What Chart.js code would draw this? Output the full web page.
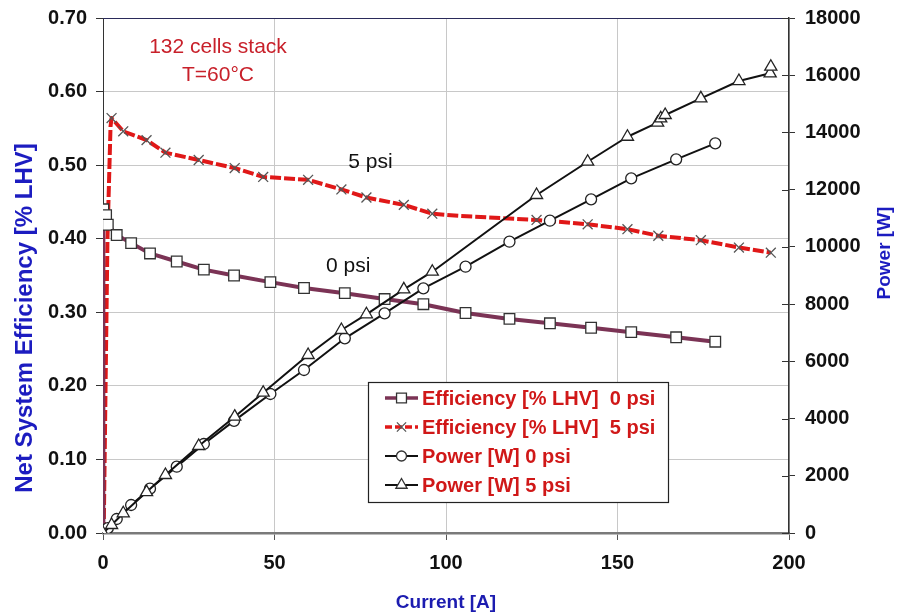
<!DOCTYPE html>
<html>
<head>
<meta charset="utf-8">
<script src="https://cdn.jsdelivr.net/npm/chart.js@4/dist/chart.umd.min.js"></script>
<style>
  html, body { margin: 0; padding: 0; background: #ffffff; }
  #wrap { width: 899px; height: 615px; position: relative; }
</style>
</head>
<body>
<div id="wrap"><canvas id="c" width="899" height="615"></canvas></div>
<script>
// ---- Data ----
const eff0Current = [0, 0.1, 0.9, 1.4, 4.0, 8.2, 13.7, 21.5, 29.4, 38.2, 48.8, 58.6, 70.5, 82.1, 93.4, 105.7, 118.5, 130.3, 142.3, 154.0, 167.1, 178.5];
const eff0Values  = [0, 0.440, 0.432, 0.419, 0.405, 0.394, 0.380, 0.369, 0.358, 0.350, 0.341, 0.333, 0.326, 0.318, 0.311, 0.299, 0.291, 0.285, 0.279, 0.273, 0.266, 0.260];
const eff0Marked  = [0, 1, 1, 1, 1, 1, 1, 1, 1, 1, 1, 1, 1, 1, 1, 1, 1, 1, 1, 1, 1, 1];

const eff5Current = [0.2, 1.3, 2.2, 2.5, 5.9, 12.7, 18.2, 27.9, 38.4, 46.7, 59.8, 69.5, 76.8, 87.7, 96.0, 104.0, 126.4, 141.3, 152.9, 161.9, 174.3, 185.4, 194.7];
const eff5Values  = [0, 0.400, 0.553, 0.564, 0.546, 0.534, 0.517, 0.507, 0.496, 0.484, 0.480, 0.467, 0.456, 0.446, 0.434, 0.431, 0.4255, 0.4196, 0.413, 0.404, 0.398, 0.388, 0.381];
const eff5Marked  = [1, 0, 0, 1, 1, 1, 1, 1, 1, 1, 1, 1, 1, 1, 1, 0, 1, 1, 1, 1, 1, 1, 1];

const pow0Current = [0, 0.9, 1.4, 4.0, 8.2, 13.7, 21.5, 29.4, 38.2, 48.8, 58.6, 70.5, 82.1, 93.4, 105.7, 118.5, 130.3, 142.3, 154.0, 167.1, 178.5];
const pow0Values  = [0, 110, 170, 489, 979, 1550, 2317, 3110, 3920, 4858, 5697, 6805, 7678, 8552, 9307, 10181, 10915, 11663, 12397, 13060, 13620];

const pow5Current = [0, 2.5, 5.9, 12.7, 18.2, 27.9, 38.4, 46.7, 59.8, 69.5, 76.8, 87.7, 96.0, 126.4, 141.3, 152.9, 161.7, 162.6, 163.9, 174.3, 185.4, 194.5, 194.7];
const pow5Values  = [0, 280, 689, 1430, 2027, 3040, 4065, 4903, 6221, 7095, 7644, 8517, 9132, 11813, 12977, 13850, 14340, 14493, 14609, 15192, 15797, 16066, 16297];

const seriesLabels = ['Efficiency [% LHV]  0 psi', 'Efficiency [% LHV]  5 psi', 'Power [W] 0 psi', 'Power [W] 5 psi'];
const xTicks  = [0, 50, 100, 150, 200];
const yTicks  = [0, 0.1, 0.2, 0.3, 0.4, 0.5, 0.6, 0.7];
const y1Ticks = [0, 2000, 4000, 6000, 8000, 10000, 12000, 14000, 16000, 18000];
const xTitle = 'Current [A]';
const yTitle = 'Net System Efficiency [% LHV]';
const y1Title = 'Power [W]';
const noteLines = ['132 cells stack', 'T=60°C'];
const curveLabels = [{ text: '5 psi', x: 78, y: 0.504 }, { text: '0 psi', x: 71.5, y: 0.363 }];

// ---- Build datasets ----
const pts = (xs, ys) => xs.map((x, i) => ({ x: x, y: ys[i] }));
const FONT = "'Liberation Sans', Arial, sans-serif";

const datasets = [
  {
    label: seriesLabels[0], yAxisID: 'y', data: pts(eff0Current, eff0Values),
    borderColor: '#7b3355', borderWidth: 4, showLine: true, tension: 0,
    pointStyle: 'rect', pointRadius: eff0Marked.map(m => m ? 7.5 : 0),
    pointBackgroundColor: '#ffffff', pointBorderColor: '#333333', pointBorderWidth: 1.3, order: 3
  },
  {
    label: seriesLabels[1], yAxisID: 'y', data: pts(eff5Current, eff5Values),
    borderColor: '#e01818', borderWidth: 4, borderDash: [11, 3], showLine: true, tension: 0,
    pointStyle: 'crossRot', pointRadius: eff5Marked.map(m => m ? 7 : 0),
    pointBackgroundColor: '#ffffff', pointBorderColor: '#555555', pointBorderWidth: 1.3, order: 4
  },
  {
    label: seriesLabels[2], yAxisID: 'y1', data: pts(pow0Current, pow0Values),
    borderColor: '#111111', borderWidth: 2, showLine: true, tension: 0,
    pointStyle: 'circle', pointRadius: 5.5,
    pointBackgroundColor: '#ffffff', pointBorderColor: '#222222', pointBorderWidth: 1.3, order: 2
  },
  {
    label: seriesLabels[3], yAxisID: 'y1', data: pts(pow5Current, pow5Values),
    borderColor: '#111111', borderWidth: 2, showLine: true, tension: 0,
    pointStyle: 'triangle', pointRadius: 7,
    pointBackgroundColor: '#ffffff', pointBorderColor: '#222222', pointBorderWidth: 1.3, order: 1
  }
];

function drawMarker(ctx, style, x, y, r) {
  ctx.save();
  ctx.fillStyle = '#ffffff';
  ctx.strokeStyle = '#333333';
  ctx.lineWidth = 1.3;
  ctx.beginPath();
  if (style === 'rect') {
    const s = r * Math.SQRT1_2;
    ctx.rect(x - s, y - s, 2 * s, 2 * s);
    ctx.fill(); ctx.stroke();
  } else if (style === 'circle') {
    ctx.arc(x, y, r, 0, Math.PI * 2);
    ctx.fill(); ctx.stroke();
  } else if (style === 'triangle') {
    ctx.moveTo(x, y - r);
    ctx.lineTo(x + r * 0.866, y + r * 0.5);
    ctx.lineTo(x - r * 0.866, y + r * 0.5);
    ctx.closePath();
    ctx.fill(); ctx.stroke();
  } else if (style === 'crossRot') {
    const s = r * Math.SQRT1_2;
    ctx.strokeStyle = '#555555';
    ctx.moveTo(x - s, y - s); ctx.lineTo(x + s, y + s);
    ctx.moveTo(x - s, y + s); ctx.lineTo(x + s, y - s);
    ctx.stroke();
  }
  ctx.restore();
}

const decor = {
  id: 'decor',
  afterDatasetsDraw(chart) {
    const ctx = chart.ctx;
    const a = chart.chartArea;
    const xs = chart.scales.x, ys = chart.scales.y, y1s = chart.scales.y1;
    ctx.save();
    // top frame line
    ctx.strokeStyle = '#2a2a5a'; ctx.lineWidth = 1;
    ctx.beginPath(); ctx.moveTo(a.left, a.top + 0.5); ctx.lineTo(a.right, a.top + 0.5); ctx.stroke();
    // inward ticks on the right axis
    ctx.strokeStyle = '#333333';
    ctx.beginPath();
    y1Ticks.forEach(v => {
      const py = Math.round(y1s.getPixelForValue(v)) + 0.5;
      ctx.moveTo(a.right - 7, py); ctx.lineTo(a.right, py);
    });
    ctx.stroke();

    // note text
    ctx.fillStyle = '#c8202a';
    ctx.font = '21px ' + FONT;
    ctx.textAlign = 'center'; ctx.textBaseline = 'middle';
    ctx.fillText(noteLines[0], 218, 47);
    ctx.fillText(noteLines[1], 218, 75);
    // curve labels
    ctx.fillStyle = '#111111';
    ctx.font = '21px ' + FONT;
    curveLabels.forEach(c => {
      ctx.fillText(c.text, xs.getPixelForValue(c.x), ys.getPixelForValue(c.y));
    });

    // legend box
    const L = 368, T = 382, R = 668, B = 502;
    ctx.fillStyle = '#ffffff';
    ctx.fillRect(L, T, R - L, B - T);
    ctx.strokeStyle = '#222222'; ctx.lineWidth = 1.2;
    ctx.strokeRect(L + 0.5, T + 0.5, R - L, B - T);
    const rowsY = [398, 427, 456, 485];
    const styles = ['rect', 'crossRot', 'circle', 'triangle'];
    const radii = [7, 6.5, 5, 6.5];
    chart.data.datasets.forEach((ds, i) => {
      const yy = rowsY[i];
      ctx.save();
      ctx.strokeStyle = ds.borderColor;
      ctx.lineWidth = i < 2 ? 3.5 : 2;
      if (i === 1) ctx.setLineDash([7, 3]);
      ctx.beginPath(); ctx.moveTo(385, yy); ctx.lineTo(418, yy); ctx.stroke();
      ctx.restore();
      drawMarker(ctx, styles[i], 401.5, yy, radii[i]);
      ctx.fillStyle = '#d01818';
      ctx.font = 'bold 20px ' + FONT;
      ctx.textAlign = 'left'; ctx.textBaseline = 'middle';
      ctx.fillText(ds.label, 422, yy + 1);
    });

    // axis titles
    ctx.textAlign = 'center'; ctx.textBaseline = 'middle';
    ctx.fillStyle = '#1c1cb0';
    ctx.font = 'bold 19px ' + FONT;
    ctx.fillText(xTitle, 446, 603);
    ctx.save();
    ctx.translate(25, 318); ctx.rotate(-Math.PI / 2);
    ctx.fillStyle = '#1c1cc0';
    ctx.font = 'bold 24px ' + FONT;
    ctx.fillText(yTitle, 0, 0);
    ctx.restore();
    ctx.save();
    ctx.translate(885, 253); ctx.rotate(-Math.PI / 2);
    ctx.fillStyle = '#1c1cc0';
    ctx.font = 'bold 19px ' + FONT;
    ctx.fillText(y1Title, 0, 0);
    ctx.restore();
    ctx.restore();
  }
};

const noVPad = s => { s.paddingTop = 0; s.paddingBottom = 0; };

new Chart(document.getElementById('c'), {
  type: 'scatter',
  data: { datasets: datasets },
  options: {
    responsive: false,
    animation: false,
    layout: { padding: { top: 18, left: 0, right: 0, bottom: 0 } },
    plugins: { legend: { display: false }, title: { display: false }, tooltip: { enabled: false } },
    elements: { line: { borderJoinStyle: 'round' } },
    scales: {
      x: {
        type: 'linear', min: 0, max: 200,
        afterFit: s => { s.height = 82; },
        afterBuildTicks: s => { s.ticks = xTicks.map(v => ({ value: v })); },
        ticks: { padding: 11, color: '#111111', font: { family: FONT, size: 20, weight: 'bold' }, maxRotation: 0 },
        grid: { color: '#c8c8c8', lineWidth: 1, tickLength: 7, tickColor: '#555555' },
        border: { color: '#7a7a7a', width: 2.5 }
      },
      y: {
        type: 'linear', position: 'left', min: 0, max: 0.7,
        afterFit: s => { s.width = 103; noVPad(s); },
        afterBuildTicks: s => { s.ticks = yTicks.map(v => ({ value: v })); },
        ticks: { padding: 9, color: '#111111', font: { family: FONT, size: 20, weight: 'bold' }, callback: v => Number(v).toFixed(2) },
        grid: { color: '#c8c8c8', lineWidth: 1, tickLength: 7, tickColor: '#333333' },
        border: { color: '#333333', width: 1 }
      },
      y1: {
        type: 'linear', position: 'right', min: 0, max: 18000,
        afterFit: s => { s.width = 110; noVPad(s); },
        afterBuildTicks: s => { s.ticks = y1Ticks.map(v => ({ value: v })); },
        ticks: { padding: 10, color: '#111111', font: { family: FONT, size: 20, weight: 'bold' }, callback: v => String(v) },
        grid: { drawOnChartArea: false, tickLength: 6, tickColor: '#333333' },
        border: { color: '#333333', width: 1.5 }
      }
    }
  },
  plugins: [decor]
});
</script>
</body>
</html>
